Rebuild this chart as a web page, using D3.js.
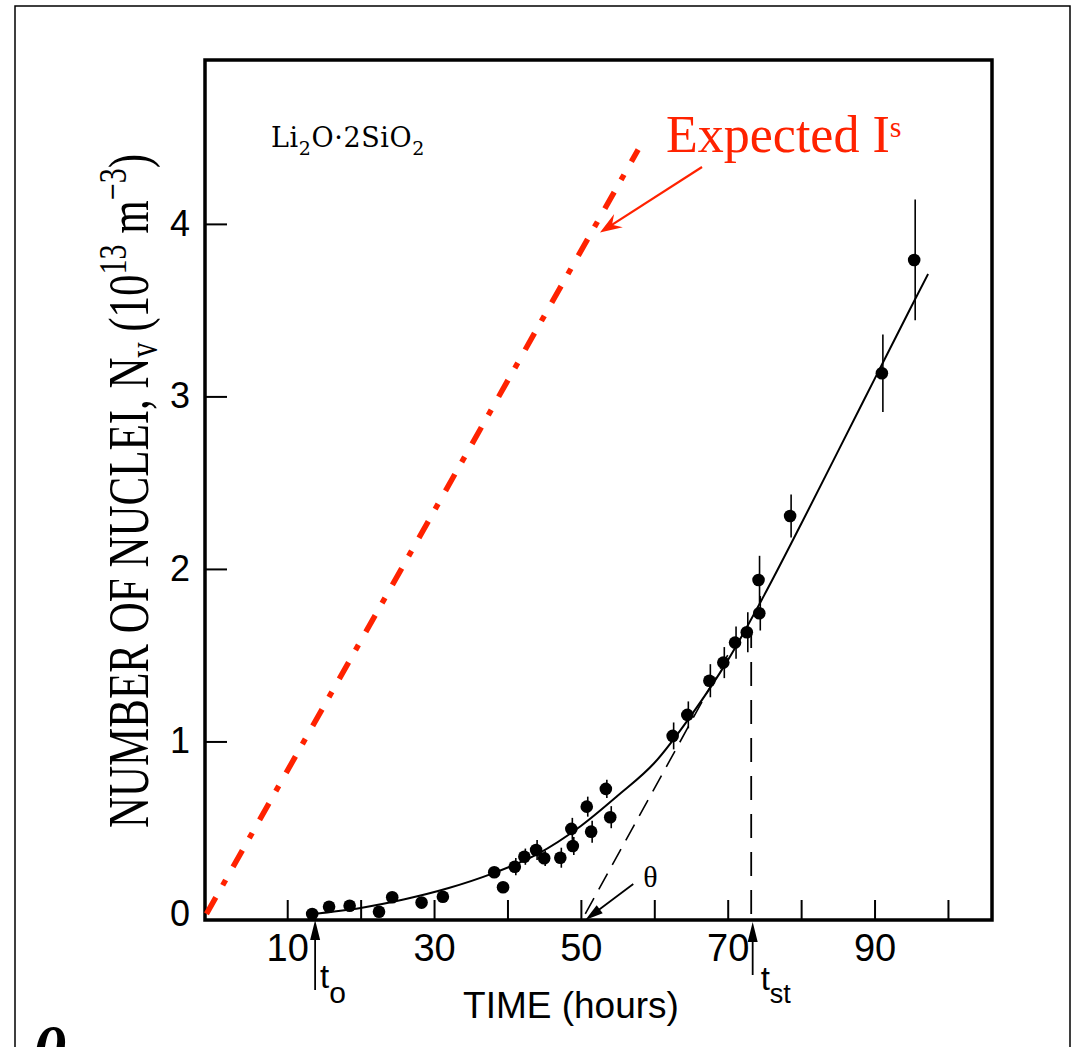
<!DOCTYPE html>
<html>
<head>
<meta charset="utf-8">
<script src="https://cdn.jsdelivr.net/npm/d3@7"></script>
<style>
  body { margin: 0; background: #fff; }
  svg { display: block; }
</style>
</head>
<body>
<svg id="chart" width="1075" height="1047"></svg>
<script>
// Measured nucleation data for Li2O·2SiO2 glass: time (h) vs nuclei density (1e13 m^-3)
const hours   = [13.4, 15.7, 18.5, 22.5, 24.3, 28.3, 31.2, 38.2, 39.4, 41.0, 42.3, 43.9, 45.0, 47.2,
                 48.7, 48.9, 50.8, 51.4, 53.4, 54.0, 62.5, 64.5, 67.5, 69.4, 71.0, 72.6, 74.2, 74.3,
                 78.5, 91.0, 95.4];
const nuclei  = [0.00, 0.042, 0.048, 0.013, 0.097, 0.066, 0.10, 0.242, 0.155, 0.274, 0.332, 0.371, 0.323, 0.326,
                 0.493, 0.394, 0.622, 0.477, 0.725, 0.561, 1.032, 1.154, 1.352, 1.457, 1.573, 1.633, 1.936, 1.743,
                 2.307, 3.134, 3.791];
const errHalf = [0, 0, 0, 0, 0, 0, 0, 0, 0, 0.05, 0.047, 0.058, 0.045, 0.058,
                 0.064, 0.052, 0.058, 0.064, 0.053, 0.064, 0.078, 0.078, 0.096, 0.09, 0.093, 0.116, 0.14, 0.10,
                 0.125, 0.225, 0.35];

// Smooth fitted curve through the measurements
const fitHours  = [13.4, 20, 26, 32, 38, 44, 50, 55, 60, 65, 70, 75, 80, 85, 90, 95, 97.3];
const fitNuclei = [0.00, 0.035, 0.085, 0.15, 0.235, 0.345, 0.51, 0.685, 0.875, 1.15, 1.47, 1.85, 2.26, 2.68, 3.10, 3.52, 3.71];

// Steady-state tangent, its time-lag construction and the expected steady-state rate
const tangentHours   = [50.6, 70.0];
const tangentNuclei  = [0.0, 1.5];
const steadyHours    = [73.2, 73.2];
const steadyNuclei   = [0.0, 1.62];
const expectedHours  = [-1.0, 57.8];
const expectedNuclei = [0.0, 4.43];

// Axis ticks
const xTicks      = [10, 20, 30, 40, 50, 60, 70, 80, 90, 100];
const xTickLabels = [10, 30, 50, 70, 90];
const yTicks      = [0, 1, 2, 3, 4];

// Characteristic times marked under the axis
const t0Hours    = 13.8;
const tstHours   = 73.4;
const thetaHours = 50.6;

const RED = "#ff2200";
const svg = d3.select("#chart");

const x = d3.scaleLinear().domain([-1.2, 106]).range([205, 992]);
const y = d3.scaleLinear().domain([-0.035, 4.95]).range([920, 60]);
const [x0, x1] = x.range();
const [yb, yt] = y.range();

// slide border
svg.append("path")
  .attr("d", `M15,1047 V6 H1070 V1047`)
  .attr("fill", "none").attr("stroke", "#000").attr("stroke-width", 1.5);

// x axis (ticks point inwards)
const xAxis = d3.axisBottom(x)
  .tickValues(xTicks)
  .tickSizeInner(-20).tickSizeOuter(0).tickPadding(14)
  .tickFormat(d => xTickLabels.includes(d) ? String(d) : "");
const gx = svg.append("g").attr("transform", `translate(0,${yb})`).call(xAxis);
gx.select(".domain").remove();
gx.selectAll(".tick line").attr("stroke-width", 2);
gx.selectAll(".tick text")
  .attr("font-family", "'Liberation Sans', Arial, sans-serif")
  .attr("font-size", 38).attr("fill", "#000");

// y axis
const yAxis = d3.axisLeft(y)
  .tickValues(yTicks)
  .tickSizeInner(-22).tickSizeOuter(0).tickPadding(15)
  .tickFormat(d3.format("d"));
const gy = svg.append("g").attr("transform", `translate(${x0},0)`).call(yAxis);
gy.select(".domain").remove();
gy.selectAll(".tick line").attr("stroke-width", 2)
  .filter(d => d === 0).remove();
gy.selectAll(".tick text")
  .attr("font-family", "'Liberation Sans', Arial, sans-serif")
  .attr("font-size", 36).attr("fill", "#000");

// plot frame
svg.append("rect")
  .attr("x", x0).attr("y", yt).attr("width", x1 - x0).attr("height", yb - yt)
  .attr("fill", "none").attr("stroke", "#000").attr("stroke-width", 3.5);

const line = d3.line().x(d => x(d[0])).y(d => y(d[1]));

// expected steady-state line (red dash-dot)
svg.append("path")
  .attr("d", line(d3.zip(expectedHours, expectedNuclei)))
  .attr("fill", "none").attr("stroke", RED).attr("stroke-width", 5.5)
  .attr("stroke-dasharray", "19,14,6,15");

// tangent and vertical time-lag construction lines
svg.append("path")
  .attr("d", line(d3.zip(tangentHours, tangentNuclei)))
  .attr("fill", "none").attr("stroke", "#000").attr("stroke-width", 1.6)
  .attr("stroke-dasharray", "18,10");
svg.append("path")
  .attr("d", line(d3.zip(steadyHours, steadyNuclei)))
  .attr("fill", "none").attr("stroke", "#000").attr("stroke-width", 1.8)
  .attr("stroke-dasharray", "24,14");

// fitted curve
svg.append("path")
  .attr("d", d3.line().x(d => x(d[0])).y(d => y(d[1])).curve(d3.curveMonotoneX)(d3.zip(fitHours, fitNuclei)))
  .attr("fill", "none").attr("stroke", "#000").attr("stroke-width", 2);

// error bars and points
const pts = hours.map((h, i) => ({ h, n: nuclei[i], e: errHalf[i] }));
svg.append("g").selectAll("line").data(pts.filter(p => p.e > 0)).join("line")
  .attr("x1", p => x(p.h) + 1).attr("x2", p => x(p.h) + 1)
  .attr("y1", p => y(p.n + p.e)).attr("y2", p => y(p.n - p.e))
  .attr("stroke", "#000").attr("stroke-width", 1.6);
svg.append("g").selectAll("circle").data(pts).join("circle")
  .attr("cx", p => x(p.h)).attr("cy", p => y(p.n)).attr("r", 6.3)
  .attr("fill", "#000");

// arrow helper: shaft plus filled head
function arrow(g, xa, ya, xb, yb2, color, len, half, width, notch) {
  const ang = Math.atan2(yb2 - ya, xb - xa);
  const ux = Math.cos(ang), uy = Math.sin(ang);
  const bx = xb - ux * len, by = yb2 - uy * len;
  g.append("line").attr("x1", xa).attr("y1", ya)
    .attr("x2", xb - ux * len * 0.6).attr("y2", yb2 - uy * len * 0.6)
    .attr("stroke", color).attr("stroke-width", width);
  const nx = xb - ux * len * (1 - notch), ny = yb2 - uy * len * (1 - notch);
  g.append("path")
    .attr("d", `M${xb},${yb2} L${bx - uy * half},${by + ux * half} L${nx},${ny} L${bx + uy * half},${by - ux * half} Z`)
    .attr("fill", color);
}
const ann = svg.append("g");

// t0 and tst arrows below the axis
arrow(ann, x(t0Hours), yb + 70, x(t0Hours), yb, "#000", 20, 5, 1.8, 0);
arrow(ann, x(tstHours), yb + 55, x(tstHours), yb + 2, "#000", 20, 5, 1.8, 0);
// theta arrow to the tangent's intercept
arrow(ann, x(thetaHours) + 48, yb - 36, x(thetaHours), yb, "#000", 18, 5, 1.8, 0);

const sans = "'Liberation Sans', Arial, sans-serif";
const serif = "'Liberation Serif', 'Times New Roman', serif";

const t0 = ann.append("text").attr("x", x(t0Hours) + 5).attr("y", yb + 68)
  .attr("font-family", sans).attr("font-size", 33);
t0.append("tspan").text("t");
t0.append("tspan").attr("dy", 15).attr("font-size", 30).text("o");

const tst = ann.append("text").attr("x", x(tstHours) + 8).attr("y", yb + 70)
  .attr("font-family", sans).attr("font-size", 33);
tst.append("tspan").text("t");
tst.append("tspan").attr("dy", 13).attr("font-size", 27).text("st");

ann.append("text").attr("x", x(thetaHours) + 58).attr("y", yb - 33)
  .attr("font-family", serif).attr("font-size", 30).text("θ");

// axis titles
svg.append("text").attr("x", 571).attr("y", 1018).attr("text-anchor", "middle")
  .attr("font-family", sans).attr("font-size", 37).text("TIME (hours)");

const yl = svg.append("text")
  .attr("transform", "translate(148,491) rotate(-90) scale(1,1.35)")
  .attr("text-anchor", "middle")
  .attr("font-family", serif).attr("font-size", 43);
yl.append("tspan").text("NUMBER OF NUCLEI, N");
yl.append("tspan").attr("dy", 7).attr("font-size", 30).text("v");
yl.append("tspan").attr("dy", -7).text(" (10");
yl.append("tspan").attr("dy", -16).attr("font-size", 30).text("13");
yl.append("tspan").attr("dy", 16).text(" m");
yl.append("tspan").attr("dy", -16).attr("font-size", 30).text("−3");
yl.append("tspan").attr("dy", 16).text(")");

// composition label
const comp = svg.append("text").attr("x", 271).attr("y", 147)
  .attr("font-family", "'DejaVu Serif', serif").attr("font-size", 27).attr("letter-spacing", 0.6);
comp.append("tspan").text("Li");
comp.append("tspan").attr("dy", 8).attr("font-size", 19).text("2");
comp.append("tspan").attr("dy", -8).text("O·2SiO");
comp.append("tspan").attr("dy", 8).attr("font-size", 19).text("2");

// expected steady-state rate annotation
const exp = svg.append("text").attr("x", 666).attr("y", 152)
  .attr("font-family", serif).attr("font-size", 52).attr("fill", RED);
exp.append("tspan").text("Expected I");
exp.append("tspan").attr("dy", -15).attr("font-size", 30).text("s");
arrow(ann, x(66.5), y(4.33), x(52.6), y(3.95), RED, 22, 8, 2.2, 0.35);

// cut-off symbol at the lower left of the slide
svg.append("text").attr("x", 33).attr("y", 1072)
  .attr("font-family", serif).attr("font-style", "italic").attr("font-weight", "bold")
  .attr("font-size", 64).text("θ");
</script>
</body>
</html>
